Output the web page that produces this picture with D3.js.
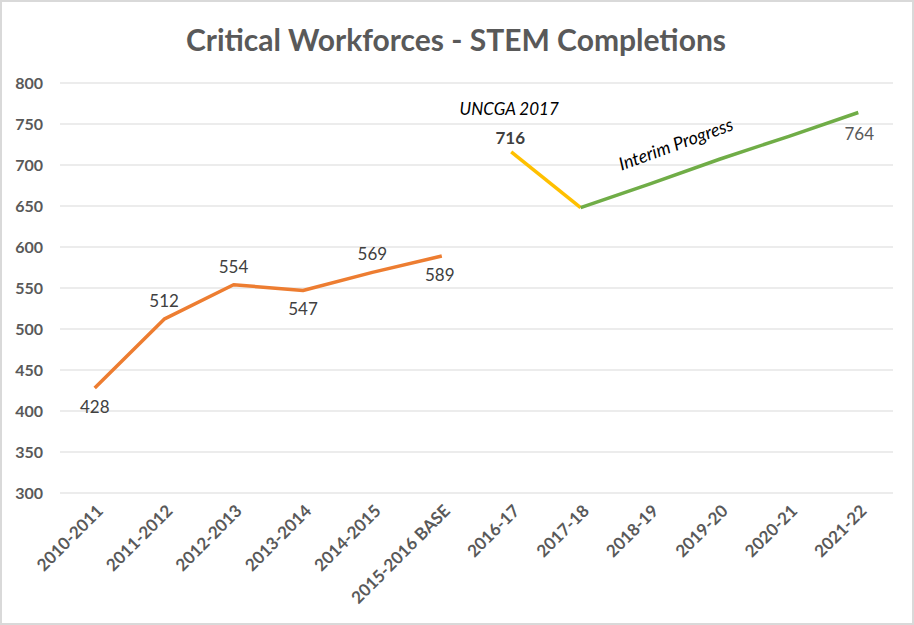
<!DOCTYPE html>
<html>
<head>
<meta charset="utf-8">
<script src="https://cdn.jsdelivr.net/npm/d3@7"></script>
<style>
  html, body { margin: 0; padding: 0; background: #fff; overflow: hidden; }
  svg { display: block; }
</style>
</head>
<body>
<div id="chart"></div>
<script>
// chart values
const categories = ["2010-2011", "2011-2012", "2012-2013", "2013-2014", "2014-2015",
    "2015-2016 BASE", "2016-17", "2017-18", "2018-19", "2019-20", "2020-21", "2021-22"];
const actualValues = [428, 512, 554, 547, 569, 589];           // orange
const uncgaValues = [716, 648];                                 // yellow, 2016-17 -> 2017-18
const interimValues = [648, 677, 707, 735, 764];                // green, 2017-18 -> 2021-22
const yTicks = [300, 350, 400, 450, 500, 550, 600, 650, 700, 750, 800];

const width = 914, height = 625;
const margin = { top: 83, right: 21, bottom: 132, left: 60 };
const innerWidth = width - margin.left - margin.right;
const innerHeight = height - margin.top - margin.bottom;

const font = "Lato, 'Open Sans', sans-serif";
const gray = "#595959";

const svg = d3.select("#chart").append("svg")
    .attr("width", width)
    .attr("height", height);

// outer frame
svg.append("rect")
    .attr("x", 1).attr("y", 1)
    .attr("width", width - 2).attr("height", height - 2)
    .attr("fill", "#fff")
    .attr("stroke", "#d9d9d9")
    .attr("stroke-width", 2);

// title
svg.append("text")
    .attr("x", 456)
    .attr("y", 51)
    .attr("text-anchor", "middle")
    .style("font-family", font)
    .style("font-size", "30px")
    .style("font-weight", "bold")
    .style("fill", gray)
    .text("Critical Workforces - STEM Completions");

const g = svg.append("g").attr("transform", `translate(${margin.left},${margin.top})`);

const x = d3.scalePoint()
    .domain(categories)
    .range([0, innerWidth])
    .padding(0.5);

const y = d3.scaleLinear()
    .domain([300, 800])
    .range([innerHeight, 0]);

// gridlines
g.selectAll(".grid")
    .data(yTicks)
    .enter().append("line")
    .attr("x1", 0).attr("x2", innerWidth)
    .attr("y1", d => y(d)).attr("y2", d => y(d))
    .attr("stroke", "#d9d9d9")
    .attr("stroke-width", 1);

// y axis labels
const yAxis = g.append("g")
    .call(d3.axisLeft(y).tickValues(yTicks).tickSize(0).tickPadding(17));
yAxis.select(".domain").remove();
yAxis.selectAll("text")
    .style("font-family", font)
    .style("font-size", "16px")
    .style("font-weight", "bold")
    .style("fill", gray);

// x axis labels, rotated
const xAxis = g.append("g")
    .attr("transform", `translate(0,${innerHeight})`)
    .call(d3.axisBottom(x).tickSize(0).tickPadding(0));
xAxis.select(".domain").remove();
xAxis.selectAll("text")
    .attr("text-anchor", "end")
    .attr("dy", 0)
    .attr("transform", "translate(9,19) rotate(-45)")
    .style("font-family", font)
    .style("font-size", "17px")
    .style("font-weight", "bold")
    .style("fill", gray);

const line = d3.line().x(d => x(d.c)).y(d => y(d.v));

const segs = [
    { vals: actualValues, start: 0, color: "#ed7d31" },
    { vals: uncgaValues, start: 6, color: "#ffc000" },
    { vals: interimValues, start: 7, color: "#70ad47" }
];
segs.forEach(s => {
    g.append("path")
        .datum(s.vals.map((v, i) => ({ c: categories[s.start + i], v })))
        .attr("d", line)
        .attr("fill", "none")
        .attr("stroke", s.color)
        .attr("stroke-width", 3.5)
        .attr("stroke-linejoin", "round");
});

// value labels on the actual series: above or below the point
const actualPos = ["below", "above", "above", "below", "above", "below"];
g.selectAll(".val")
    .data(actualValues)
    .enter().append("text")
    .attr("x", (d, i) => x(categories[i]) - (i === 5 ? 2 : 0))
    .attr("y", (d, i) => y(d) + (actualPos[i] === "above" ? -12 : 25))
    .attr("text-anchor", "middle")
    .style("font-family", font)
    .style("font-size", "17px")
    .style("fill", "#404040")
    .text(d => d);

// 716 label, bold
g.append("text")
    .attr("x", x(categories[6]) - 1)
    .attr("y", y(uncgaValues[0]) - 8)
    .attr("text-anchor", "middle")
    .style("font-family", font)
    .style("font-size", "17px")
    .style("font-weight", "bold")
    .style("fill", "#404040")
    .text(uncgaValues[0]);

// 764 label, below the end point
g.append("text")
    .attr("x", x(categories[11]) + 1)
    .attr("y", y(interimValues[4]) + 27)
    .attr("text-anchor", "middle")
    .style("font-family", font)
    .style("font-size", "17px")
    .style("fill", gray)
    .text(interimValues[4]);

// annotations
g.append("text")
    .attr("x", x(categories[6]) - 2)
    .attr("y", y(uncgaValues[0]) - 37)
    .attr("text-anchor", "middle")
    .style("font-family", font)
    .style("font-size", "17px")
    .style("font-style", "italic")
    .style("fill", "#000")
    .text("UNCGA 2017");

g.append("text")
    .attr("transform", `translate(${x(categories[8]) + 28},${y(712) - 5}) rotate(-20)`)
    .attr("text-anchor", "middle")
    .style("font-family", font)
    .style("font-size", "18px")
    .style("font-style", "italic")
    .style("fill", "#000")
    .text("Interim Progress");
</script>
</body>
</html>
